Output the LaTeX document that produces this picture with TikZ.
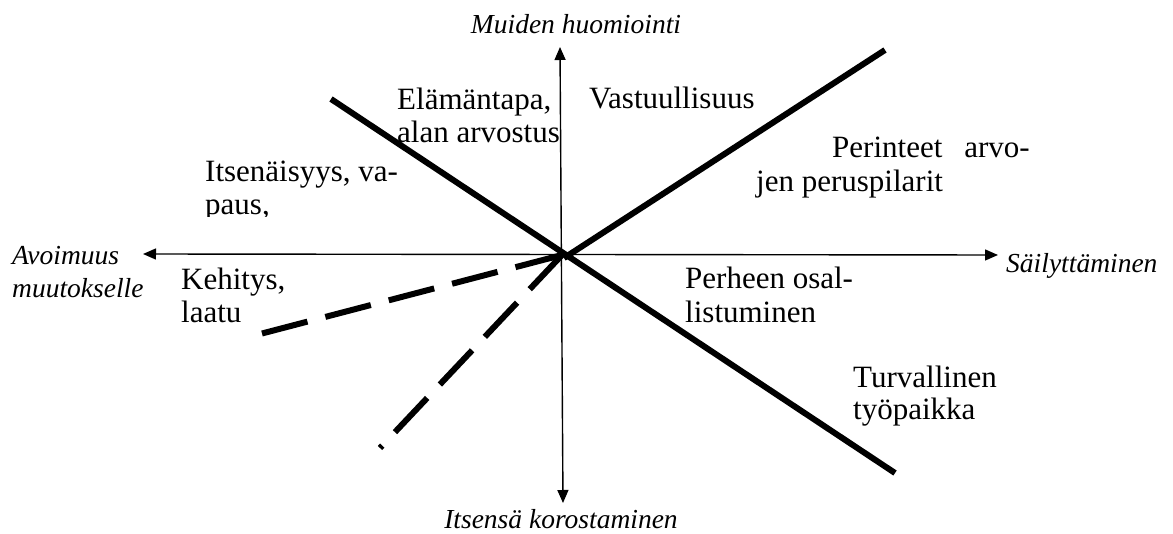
\documentclass[tikz,border=0pt]{standalone}
\usepackage{fontspec}
\setmainfont{Liberation Serif}
\usetikzlibrary{arrows.meta}

\begin{document}
\begin{tikzpicture}[x=1pt,y=-1pt,
    txt/.style={font=\fontsize{31}{33}\selectfont, inner sep=0pt, anchor=base west},
    axlabel/.style={font=\fontsize{27.5}{33}\selectfont\itshape, inner sep=0pt, anchor=base west},
    axis/.style={line width=1.4pt, {Triangle[length=13pt,width=11pt]}-{Triangle[length=13pt,width=11pt]}},
    divider/.style={line width=6pt, line cap=butt},
    dashdivider/.style={line width=6pt, line cap=butt, dash pattern=on 47pt off 18.5pt}]

  % canvas
  \useasboundingbox (0,0) rectangle (1173,534);

  % axis end points and the origin
  \coordinate (O) at (562,255);
  \coordinate (axW) at (143,254);
  \coordinate (axE) at (998,255);
  \coordinate (axN) at (560,47);
  \coordinate (axS) at (563,503);

  % axes
  \draw[axis] (axW) -- (axE);
  \draw[axis] (axN) -- (axS);

  % solid dividers
  \coordinate (d1a) at (331,99);
  \coordinate (d1b) at (895,473);
  \coordinate (d2a) at (564,258);
  \coordinate (d2b) at (885,50);
  \draw[divider] (d1a) -- (d1b);
  \draw[divider] (d2a) -- (d2b);

  % dashed dividers
  \coordinate (d3) at (262,333.5);
  \coordinate (d4) at (380,448);
  \draw[dashdivider] (d3) -- (O);
  \draw[dashdivider] (O) -- (d4);

  % axis labels
  \node[axlabel, anchor=base] (lblN) at (576,34) {Muiden huomiointi};
  \node[axlabel, anchor=base] (lblS) at (561,528) {Itsens\"a korostaminen};
  \node[axlabel] (lblW1) at (12,265) {Avoimuus};
  \node[axlabel] (lblW2) at (12,298) {muutokselle};
  \node[axlabel] (lblE) at (1006,273) {S\"ailytt\"aminen};

  % sector texts
  \node[txt] (t1a) at (397,110) {El\"am\"antapa,};
  \node[txt] (t1b) at (397,143) {alan arvostus};
  \node[txt] (t2) at (589,109) {Vastuullisuus};
  \node[txt] (t3a) at (205,182) {Itsen\"aisyys, va-};
  \begin{scope}
    \clip (150,190) rectangle (450,217);
    \node[txt] (t3b) at (205,215) {paus,};
  \end{scope}
  \node[txt] (t4a) at (181,290) {Kehitys,};
  \node[txt] (t4b) at (181,323) {laatu};
  \node[txt] (t5a) at (832,158) {Perinteet};
  \node[txt, anchor=base east] (t5b) at (1030,158) {arvo-};
  \node[txt] (t5c) at (756,192) {jen peruspilarit};
  \node[txt] (t6a) at (685,289) {Perheen osal-};
  \node[txt] (t6b) at (685,323) {listuminen};
  \node[txt] (t7a) at (853,388) {Turvallinen};
  \node[txt] (t7b) at (853,420) {ty\"opaikka};
\end{tikzpicture}
\end{document}
